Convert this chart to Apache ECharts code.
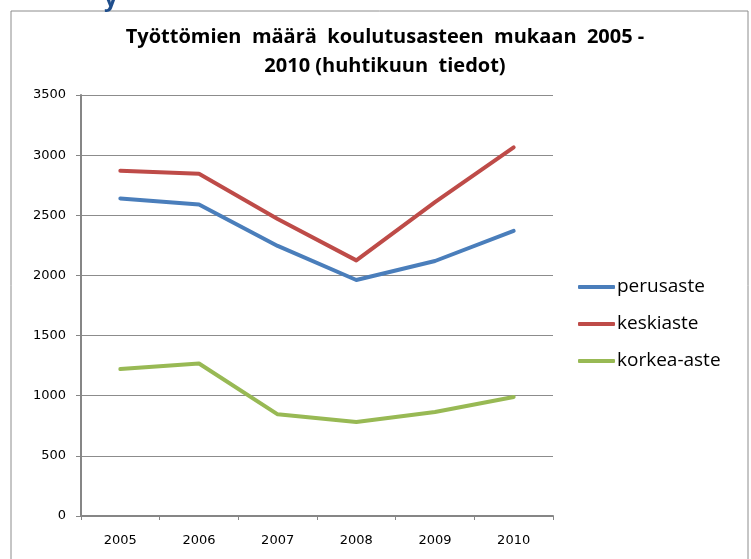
<!DOCTYPE html>
<html>
<head>
<meta charset="utf-8">
<script src="https://cdn.jsdelivr.net/npm/echarts@6/dist/echarts.min.js"></script>
<style>
  html, body { margin: 0; padding: 0; background: #fff; }
  #chart { width: 751px; height: 559px; }
</style>
</head>
<body>
<div id="chart"></div>
<script>
/* ===================== 数据 ===================== */
var years = ['2005', '2006', '2007', '2008', '2009', '2010'];
var perusaste = [2640, 2590, 2245, 1962, 2120, 2370];
var keskiaste = [2870, 2845, 2470, 2125, 2610, 3065];
var korkeaAste = [1222, 1268, 845, 782, 865, 990];
var seriesNames = ['perusaste', 'keskiaste', 'korkea-aste'];
var seriesColors = ['#4a7ebb', '#be4b48', '#98b954'];
/* ===================== end ===================== */

var chart = echarts.init(document.getElementById('chart'));

function lineSeries(i, data) {
    return {
        name: seriesNames[i],
        type: 'line',
        data: data,
        symbol: 'none',
        lineStyle: { width: 4, color: seriesColors[i], cap: 'round', join: 'round' },
        itemStyle: { color: seriesColors[i] }
    };
}

var option = {
    animation: false,
    backgroundColor: '#fff',
    title: {
        text: 'Työttömien  määrä  koulutusasteen  mukaan  2005 -\n2010 (huhtikuun  tiedot)',
        left: 380,
        top: 18,
        textAlign: 'center',
        textStyle: {
            fontFamily: 'Open Sans',
            fontWeight: 'bold',
            fontSize: 20,
            lineHeight: 29,
            color: '#000'
        }
    },
    legend: {
        orient: 'vertical',
        left: 573,
        top: 270,
        itemWidth: 37,
        itemHeight: 4,
        itemGap: 13,
        icon: 'roundRect',
        textStyle: { fontFamily: 'Open Sans', fontSize: 19, lineHeight: 24, color: '#000', padding: [0, 0, 0, -3] },
        data: seriesNames
    },
    grid: { left: 81, right: 198, top: 95, bottom: 43, containLabel: false },
    xAxis: {
        type: 'category',
        data: years,
        boundaryGap: true,
        axisLine: { lineStyle: { color: '#868686', width: 2 } },
        axisTick: { show: true, length: 4, lineStyle: { color: '#868686' } },
        axisLabel: { color: '#000', fontFamily: 'DejaVu Sans', fontSize: 13, margin: 18 }
    },
    yAxis: {
        type: 'value',
        min: 0,
        max: 3500,
        interval: 500,
        axisLine: { show: true, lineStyle: { color: '#868686', width: 2 } },
        axisTick: { show: true, length: 5, lineStyle: { color: '#868686' } },
        axisLabel: {
            color: '#000', fontFamily: 'DejaVu Sans', fontSize: 13, margin: 15,
            formatter: function (v) { return String(v); }
        },
        splitLine: { lineStyle: { color: '#8c8c8c', width: 1 } }
    },
    graphic: [
        {
            type: 'rect',
            shape: { x: 11, y: 11, width: 737, height: 560 },
            style: { fill: 'none', stroke: '#8c8c8c', lineWidth: 1 },
            silent: true
        },
        {
            type: 'text',
            left: 104,
            top: -13,
            style: { text: 'y', fill: '#1f4e8c', font: 'bold 24px "Open Sans"' },
            silent: true
        }
    ],
    series: [
        lineSeries(0, perusaste),
        lineSeries(1, keskiaste),
        lineSeries(2, korkeaAste)
    ]
};

chart.setOption(option);
</script>
</body>
</html>
